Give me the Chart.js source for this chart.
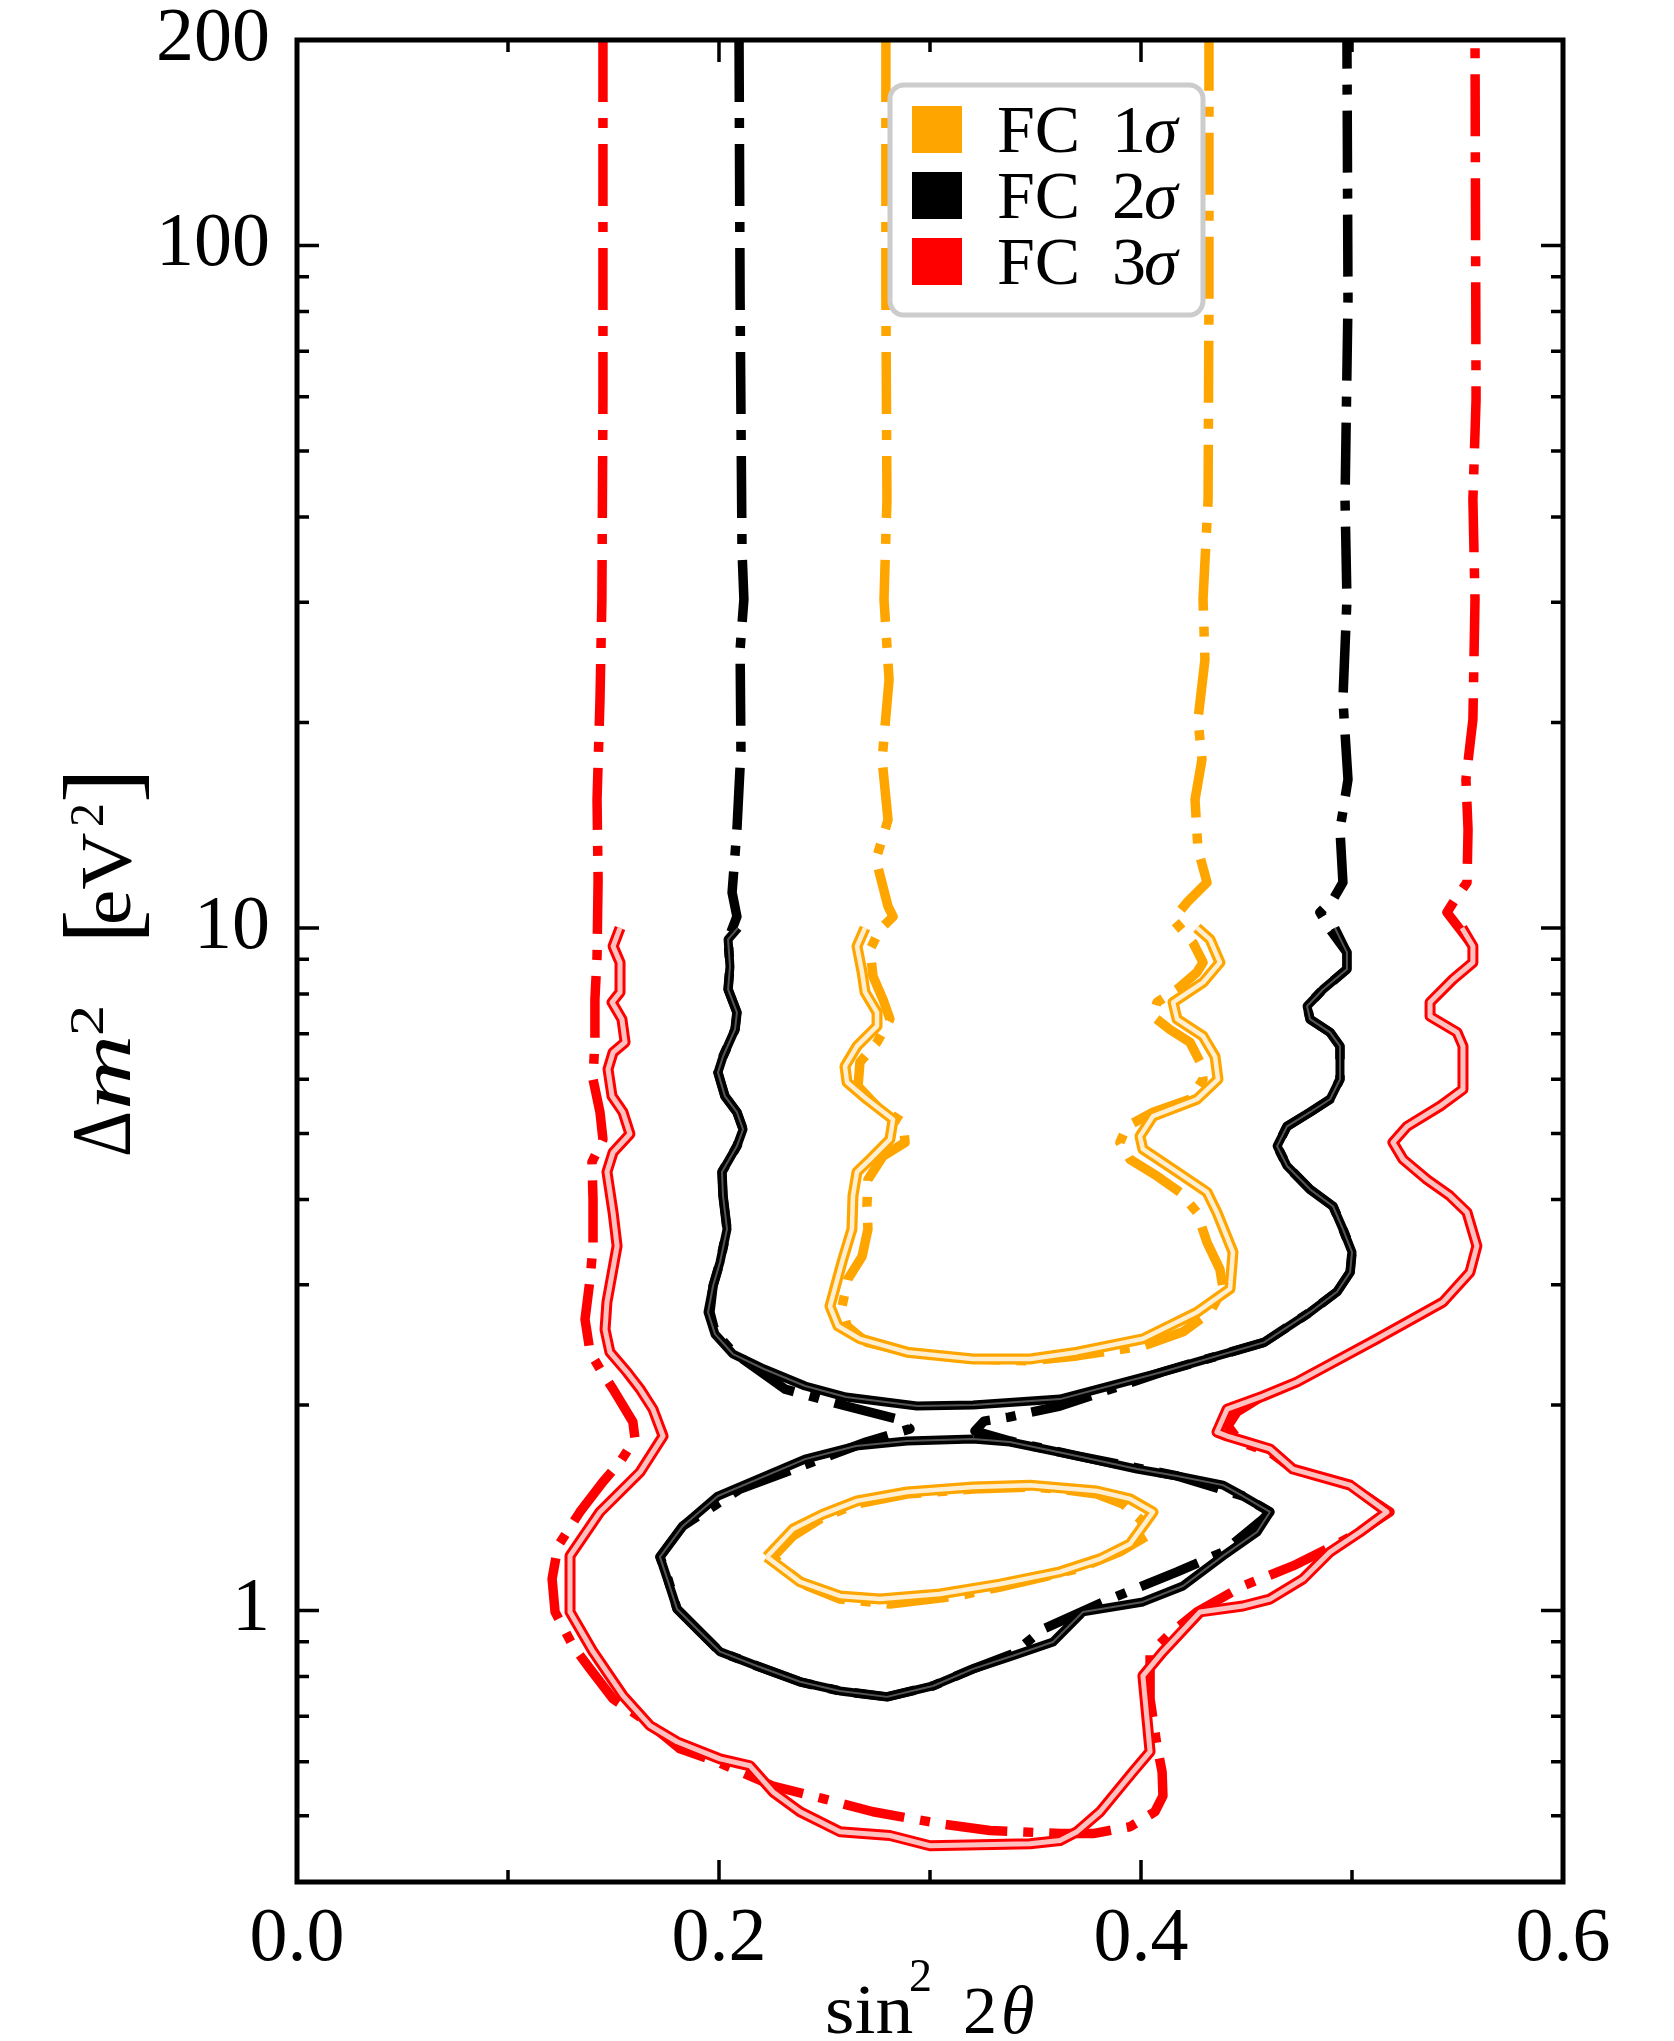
<!DOCTYPE html>
<html>
<head>
<meta charset="utf-8">
<script src="https://cdn.jsdelivr.net/npm/chart.js"></script>
<style>
html, body { margin: 0; padding: 0; background: #fff; }
canvas { display: block; }
</style>
</head>
<body>
<canvas id="chart" width="1674" height="2041"></canvas>
<script>
// FC 1 sigma: open region (dash-dot) and its band, plus the closed island
const orangeDashX = [0.2791,0.2791,0.2796,0.2782,0.2806,0.2773,0.2801,0.2744,0.2801,0.2825,0.2763,0.2716,0.2730,0.2777,0.2810,0.2749,0.2668,0.2659,0.2749,0.2872,0.2882,0.2777,0.2706,0.2701,0.2706,0.2678,0.2611,0.2583,0.2607,0.2701,0.2891,0.3204,0.3474,0.3697,0.4009,0.4199,0.4327,0.4389,0.4374,0.4313,0.4265,0.4185,0.4076,0.3948,0.3900,0.3934,0.4057,0.4232,0.4294,0.4280,0.4232,0.4137,0.4057,0.4076,0.4171,0.4265,0.4294,0.4246,0.4152,0.4218,0.4313,0.4270,0.4256,0.4289,0.4270,0.4303,0.4294,0.4318,0.4322,0.4322]
const orangeDashY = [200,83.2,42.4,30.3,23.1,17.65,14.4,12.6,10.75,10.39,9.95,9.30,8.49,7.86,7.35,6.80,6.36,5.86,5.48,5.19,4.85,4.63,4.28,3.91,3.62,3.30,3.06,2.79,2.61,2.47,2.39,2.335,2.32,2.36,2.44,2.56,2.735,2.96,3.16,3.46,3.83,4.10,4.33,4.58,4.85,5.12,5.37,5.61,6.00,6.36,6.80,7.10,7.42,7.78,8.13,8.61,8.90,9.52,10.29,10.90,11.66,13.03,15.42,17.65,20.2,24.7,30.3,42.4,83.2,200]
const orangeBandX = [0.2692,0.2654,0.2678,0.2692,0.2749,0.2749,0.2654,0.2597,0.2607,0.2701,0.2825,0.2810,0.2716,0.2654,0.2635,0.2630,0.2583,0.2526,0.2564,0.2668,0.2891,0.3204,0.3474,0.3697,0.4009,0.4265,0.4422,0.4436,0.4360,0.4313,0.4152,0.4009,0.3995,0.4057,0.4265,0.4365,0.4351,0.4294,0.4171,0.4152,0.4294,0.4374,0.4327,0.4265]
const orangeBandY = [10,9.40,8.61,8.05,7.52,7.18,6.71,6.27,5.94,5.61,5.24,4.90,4.58,4.39,4.05,3.62,3.24,2.79,2.61,2.50,2.39,2.335,2.335,2.39,2.50,2.735,2.96,3.35,3.83,4.10,4.43,4.74,4.95,5.30,5.61,6.00,6.48,6.94,7.35,7.78,8.32,8.90,9.62,10]
const orangeLoopDashX = [0.2256,0.2351,0.2493,0.2654,0.2891,0.3204,0.3474,0.3616,0.3791,0.3915,0.3995,0.4043,0.3900,0.3697,0.3536,0.3332,0.3128,0.2810,0.2573,0.2417,0.2322,0.2256]
const orangeLoopDashY = [1.198,1.286,1.370,1.432,1.481,1.506,1.516,1.506,1.481,1.432,1.361,1.294,1.218,1.150,1.119,1.082,1.050,1.022,1.039,1.086,1.142,1.198]
const orangeLoopBandX = [0.2227,0.2351,0.2493,0.2654,0.2891,0.3204,0.3474,0.3791,0.3948,0.4057,0.3948,0.3806,0.3616,0.3332,0.3047,0.2763,0.2573,0.2384,0.2227]
const orangeLoopBandY = [1.198,1.316,1.384,1.447,1.491,1.516,1.526,1.496,1.457,1.394,1.251,1.190,1.139,1.093,1.057,1.039,1.050,1.101,1.198]

// FC 2 sigma
const blackDashX = [0.2095,0.2100,0.2109,0.2118,0.2100,0.2104,0.2085,0.2062,0.2085,0.2043,0.2052,0.2043,0.2085,0.2076,0.2019,0.1995,0.2028,0.2085,0.2114,0.2085,0.2014,0.2019,0.2038,0.2005,0.1972,0.1957,0.1981,0.2066,0.2180,0.2313,0.2602,0.2844,0.2905,0.2697,0.2417,0.2100,0.1829,0.1720,0.1758,0.1801,0.1910,0.2005,0.2180,0.2384,0.2573,0.2796,0.3014,0.3204,0.3393,0.3536,0.3853,0.4171,0.4389,0.4578,0.4611,0.4483,0.4171,0.3697,0.3379,0.3213,0.3256,0.3374,0.3616,0.4100,0.4583,0.4801,0.4929,0.4991,0.5000,0.4957,0.4910,0.4801,0.4692,0.4645,0.4692,0.4801,0.4896,0.4943,0.4943,0.4896,0.4801,0.4787,0.4863,0.4976,0.4976,0.4896,0.4848,0.4910,0.4957,0.4943,0.4981,0.4957,0.4976,0.4967,0.4981,0.4976]
const blackDashY = [200,83.2,35.8,30.3,25.6,18.25,13.94,11.27,10.39,9.62,8.78,8.13,7.52,7.10,6.48,6.14,5.67,5.37,5.07,4.79,4.39,4.05,3.62,3.24,2.99,2.735,2.56,2.39,2.258,2.110,1.993,1.908,1.845,1.765,1.638,1.506,1.330,1.198,1.112,1.005,0.930,0.870,0.829,0.786,0.762,0.747,0.775,0.821,0.864,0.939,1.039,1.139,1.218,1.361,1.394,1.471,1.574,1.684,1.771,1.832,1.894,1.920,1.993,2.235,2.47,2.735,2.93,3.13,3.35,3.62,3.91,4.14,4.48,4.79,5.12,5.37,5.61,6.00,6.71,7.03,7.35,7.68,8.13,8.70,9.21,9.95,10.54,11.01,11.66,13.94,16.50,21.6,30.3,42.4,83.2,200]
const blackBandX = [0.2090,0.2043,0.2052,0.2043,0.2085,0.2076,0.2019,0.1995,0.2028,0.2085,0.2114,0.2085,0.2014,0.2019,0.2038,0.2005,0.1972,0.1948,0.1981,0.2066,0.2213,0.2408,0.2602,0.2938,0.3204,0.3616,0.4100,0.4583,0.4801,0.4929,0.4991,0.5000,0.4957,0.4910,0.4801,0.4692,0.4645,0.4692,0.4801,0.4896,0.4943,0.4943,0.4896,0.4801,0.4787,0.4863,0.4976,0.4976,0.4919]
const blackBandY = [10,9.62,8.78,8.13,7.52,7.10,6.48,6.14,5.67,5.37,5.07,4.79,4.39,4.05,3.62,3.24,2.99,2.735,2.54,2.375,2.258,2.132,2.054,1.993,2.000,2.040,2.235,2.47,2.735,2.93,3.13,3.35,3.62,3.91,4.14,4.48,4.79,5.12,5.37,5.61,6.00,6.71,7.03,7.35,7.68,8.13,8.70,9.21,10]
const blackLoopBandX = [0.3204,0.2891,0.2649,0.2408,0.1995,0.1829,0.1720,0.1758,0.1801,0.1910,0.2005,0.2180,0.2384,0.2573,0.2796,0.3014,0.3204,0.3393,0.3583,0.3725,0.4009,0.4199,0.4389,0.4550,0.4611,0.4483,0.4389,0.4171,0.3981,0.3697,0.3379,0.3204]
const blackLoopBandY = [1.783,1.771,1.741,1.666,1.471,1.330,1.198,1.105,1.005,0.930,0.870,0.829,0.786,0.762,0.747,0.775,0.821,0.858,0.899,0.995,1.029,1.086,1.202,1.303,1.394,1.471,1.526,1.574,1.611,1.684,1.765,1.783]

// FC 3 sigma
const redDashX = [0.1450,0.1450,0.1445,0.1436,0.1422,0.1427,0.1422,0.1412,0.1412,0.1403,0.1436,0.1450,0.1398,0.1403,0.1403,0.1389,0.1365,0.1389,0.1436,0.1498,0.1592,0.1602,0.1531,0.1450,0.1341,0.1237,0.1209,0.1223,0.1308,0.1389,0.1498,0.1659,0.1815,0.1991,0.2256,0.2493,0.2730,0.3047,0.3284,0.3616,0.3773,0.3948,0.4066,0.4104,0.4100,0.4076,0.4043,0.4043,0.4137,0.4265,0.4483,0.4720,0.4910,0.5038,0.5180,0.4991,0.4720,0.4611,0.4469,0.4412,0.4455,0.4578,0.4739,0.5118,0.5431,0.5559,0.5592,0.5545,0.5464,0.5355,0.5242,0.5194,0.5261,0.5417,0.5526,0.5526,0.5498,0.5370,0.5370,0.5479,0.5573,0.5573,0.5512,0.5450,0.5498,0.5545,0.5550,0.5540,0.5573,0.5583,0.5573,0.5588,0.5583]
const redDashY = [200,59.4,30.3,21.6,15.42,11.78,9.08,7.86,6.87,6.00,5.37,4.90,4.54,4.00,3.42,3.06,2.67,2.39,2.258,2.110,1.888,1.783,1.650,1.543,1.394,1.243,1.112,0.995,0.887,0.821,0.742,0.687,0.627,0.600,0.553,0.530,0.507,0.487,0.476,0.471,0.471,0.482,0.507,0.535,0.580,0.633,0.742,0.864,0.924,0.995,1.086,1.162,1.243,1.303,1.394,1.526,1.611,1.707,1.765,1.863,1.953,2.061,2.161,2.50,2.83,3.13,3.42,3.83,4.05,4.28,4.58,4.85,5.12,5.48,5.80,6.71,7.03,7.42,7.78,8.41,8.90,9.40,9.95,10.54,11.12,11.66,13.94,16.50,20.2,30.3,42.4,59.4,200]
const redBandX = [0.1531,0.1498,0.1531,0.1531,0.1493,0.1540,0.1555,0.1498,0.1474,0.1493,0.1545,0.1578,0.1498,0.1469,0.1498,0.1517,0.1469,0.1460,0.1483,0.1564,0.1626,0.1687,0.1735,0.1626,0.1436,0.1294,0.1294,0.1403,0.1545,0.1673,0.1801,0.2005,0.2147,0.2256,0.2384,0.2573,0.2810,0.3000,0.3474,0.3616,0.3697,0.3806,0.3962,0.4043,0.4009,0.4104,0.4280,0.4483,0.4611,0.4768,0.4896,0.5038,0.5166,0.4991,0.4720,0.4611,0.4408,0.4360,0.4408,0.4578,0.4739,0.5118,0.5431,0.5559,0.5592,0.5545,0.5464,0.5355,0.5242,0.5194,0.5261,0.5417,0.5526,0.5526,0.5498,0.5370,0.5370,0.5479,0.5573,0.5573,0.5521]
const redBandY = [10,9.40,8.90,8.05,7.78,7.35,6.80,6.57,6.21,5.67,5.37,4.99,4.69,4.39,3.83,3.42,2.83,2.58,2.39,2.235,2.110,1.972,1.801,1.595,1.394,1.202,0.995,0.870,0.750,0.678,0.642,0.606,0.592,0.542,0.507,0.474,0.468,0.452,0.455,0.460,0.474,0.507,0.580,0.621,0.802,0.870,0.995,1.015,1.039,1.112,1.218,1.303,1.394,1.526,1.611,1.724,1.801,1.825,1.972,2.061,2.161,2.50,2.83,3.13,3.42,3.83,4.05,4.28,4.58,4.85,5.12,5.48,5.80,6.71,7.03,7.42,7.78,8.41,8.90,9.40,10]

const xTicks = [0, 0.1, 0.2, 0.3, 0.4, 0.5, 0.6]
const xLabels = [0, 0.2, 0.4, 0.6]
const yTicks = [0.4,0.5,0.6,0.7,0.8,0.9,1,2,3,4,5,6,7,8,9,10,20,30,40,50,60,70,80,90,100,200]
const yLabels = [1, 10, 100, 200]
const legendLabels = ['FC 1σ', 'FC 2σ', 'FC 3σ']
const legendColors = ['#ffa500', '#000000', '#ff0000']

const serif = '"Liberation Serif", "Times New Roman", serif'

function pts(xs, ys) {
    return xs.map((x, i) => ({ x: x, y: ys[i] }))
}

function dashLine(xs, ys, color) {
    return { data: pts(xs, ys), showLine: true, borderColor: color, borderWidth: 9.5,
        borderDash: [62, 16, 10, 16], borderCapStyle: 'butt', borderJoinStyle: 'round',
        pointRadius: 0, fill: false, order: 3 }
}

// a band = two thin lines with a pale fill between, drawn as a wide line with a pale core
function band(xs, ys, color, pale, w, wi) {
    return [
        { data: pts(xs, ys), showLine: true, borderColor: color, borderWidth: w,
          borderJoinStyle: 'round', pointRadius: 0, fill: false, order: 2 },
        { data: pts(xs, ys), showLine: true, borderColor: pale, borderWidth: wi,
          borderJoinStyle: 'round', pointRadius: 0, fill: false, order: 1 }
    ]
}

const datasets = [
    dashLine(redDashX, redDashY, '#ff0000'),
    dashLine(blackDashX, blackDashY, '#000000'),
    dashLine(orangeDashX, orangeDashY, '#ffa500'),
    dashLine(orangeLoopDashX, orangeLoopDashY, '#ffa500'),
    ...band(redBandX, redBandY, '#ff0000', '#ffc0c0', 11, 5),
    ...band(blackBandX, blackBandY, '#000000', '#555555', 9, 2),
    ...band(blackLoopBandX, blackLoopBandY, '#000000', '#555555', 9, 2),
    ...band(orangeBandX, orangeBandY, '#ffa500', '#ffefd2', 11, 4.5),
    ...band(orangeLoopBandX, orangeLoopBandY, '#ffa500', '#ffefd2', 11, 4.5)
]

function drawRuns(ctx, runs) {
    runs.forEach(r => {
        ctx.save()
        ctx.font = r.font
        ctx.translate(r.at, r.dy || 0)
        ctx.scale(r.sx || 1, 1)
        ctx.fillText(r.text, 0, 0)
        ctx.restore()
    })
}

const framePlugin = {
    id: 'frame',
    afterDatasetsDraw(chart) {
        const ctx = chart.ctx
        const a = chart.chartArea
        const xs = chart.scales.x
        const ys = chart.scales.y
        ctx.save()
        ctx.strokeStyle = '#000'
        ctx.lineCap = 'butt'
        ctx.lineWidth = 3.5
        ctx.beginPath()
        xs.ticks.forEach(t => {
            const p = xs.getPixelForValue(t.value)
            const len = xLabels.includes(t.value) ? 22 : 12
            ctx.moveTo(p, a.bottom); ctx.lineTo(p, a.bottom - len)
            ctx.moveTo(p, a.top); ctx.lineTo(p, a.top + len)
        })
        ys.ticks.forEach(t => {
            const p = ys.getPixelForValue(t.value)
            const len = yLabels.includes(t.value) ? 22 : 12
            ctx.moveTo(a.left, p); ctx.lineTo(a.left + len, p)
            ctx.moveTo(a.right, p); ctx.lineTo(a.right - len, p)
        })
        ctx.stroke()
        ctx.lineWidth = 5
        ctx.strokeRect(a.left, a.top, a.right - a.left, a.bottom - a.top)
        ctx.restore()
    },
    afterDraw(chart) {
        const ctx = chart.ctx
        ctx.save()
        // legend
        ctx.fillStyle = '#ffffff'
        ctx.strokeStyle = '#cccccc'
        ctx.lineWidth = 5
        ctx.beginPath()
        ctx.roundRect(890, 85, 313, 230, 14)
        ctx.fill()
        ctx.stroke()
        ctx.textBaseline = 'alphabetic'
        legendLabels.forEach((lab, i) => {
            const top = 106 + i * 66
            ctx.fillStyle = legendColors[i]
            ctx.fillRect(912, top, 50, 47)
            ctx.fillStyle = '#000'
            ctx.font = '68px ' + serif
            ctx.fillText(lab.slice(0, 2), 997, top + 46)
            ctx.fillText(lab.slice(3, 4), 1112, top + 46)
            ctx.font = 'italic 68px ' + serif
            ctx.fillText(lab.slice(4), 1144, top + 46)
        })
        // axis titles
        ctx.fillStyle = '#000'
        ctx.save()
        ctx.translate(130, 1157)
        ctx.rotate(-Math.PI / 2)
        drawRuns(ctx, [
            { text: 'Δ', font: '84px ' + serif, at: 0, sx: 0.85 },
            { text: 'm', font: 'italic 72px ' + serif, at: 47, sx: 1.45 },
            { text: '2', font: '48px ' + serif, at: 121, dy: -27, sx: 1.3 },
            { text: '[', font: '104px ' + serif, at: 213, dy: 5 },
            { text: 'eV', font: '72px ' + serif, at: 232, sx: 1.1 },
            { text: '2', font: '48px ' + serif, at: 330, dy: -27 },
            { text: ']', font: '104px ' + serif, at: 354, dy: 5 }
        ])
        ctx.restore()
        ctx.save()
        ctx.translate(0, 2033)
        drawRuns(ctx, [
            { text: 'sin', font: '70px ' + serif, at: 825, sx: 1.08 },
            { text: '2', font: '46px ' + serif, at: 909, dy: -42 },
            { text: '2', font: '68px ' + serif, at: 963 },
            { text: 'θ', font: 'italic 68px ' + serif, at: 1001 }
        ])
        ctx.restore()
        ctx.restore()
    }
}

const myChart = new Chart(document.getElementById('chart'), {
    type: 'scatter',
    data: { datasets: datasets },
    options: {
        responsive: false,
        animation: false,
        devicePixelRatio: 1,
        events: [],
        layout: { padding: { top: 40, right: 111, left: 0, bottom: 0 } },
        plugins: { legend: { display: false }, tooltip: { enabled: false } },
        scales: {
            x: {
                type: 'linear', min: 0, max: 0.6,
                grid: { display: false, drawTicks: false },
                border: { display: false },
                afterBuildTicks: s => { s.ticks = xTicks.map(v => ({ value: v })) },
                afterFit: s => { s.height = 159; s.paddingLeft = 0; s.paddingRight = 0 },
                ticks: {
                    autoSkip: false, maxRotation: 0, padding: 12, color: '#000',
                    font: { family: serif, size: 76 },
                    callback: v => xLabels.includes(v) ? v.toFixed(1) : ''
                }
            },
            y: {
                type: 'logarithmic', min: 0.4, max: 200,
                grid: { display: false, drawTicks: false },
                border: { display: false },
                afterBuildTicks: s => { s.ticks = yTicks.map(v => ({ value: v })) },
                afterFit: s => { s.width = 297; s.paddingTop = 0; s.paddingBottom = 0 },
                ticks: {
                    autoSkip: false, padding: 27, color: '#000',
                    font: { family: serif, size: 76 },
                    callback: v => yLabels.includes(v) ? String(v) : ''
                }
            }
        }
    },
    plugins: [framePlugin]
})
</script>
</body>
</html>
